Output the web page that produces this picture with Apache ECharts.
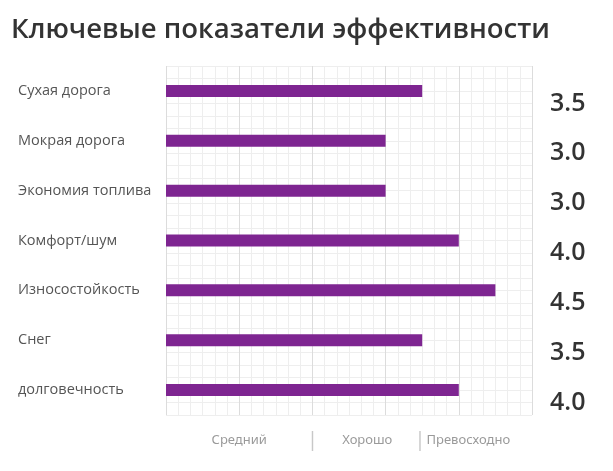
<!DOCTYPE html>
<html><head><meta charset="utf-8">
<script src="https://cdn.jsdelivr.net/npm/echarts@6/dist/echarts.min.js"></script>
<style>html,body{margin:0;padding:0;background:#fff}#c{width:613px;height:471px}</style>
</head><body><div id="c"></div>
<script>
const categories = ['Сухая дорога','Мокрая дорога','Экономия топлива','Комфорт/шум','Износостойкость','Снег','долговечность'];
const values = [3.5, 3.0, 3.0, 4.0, 4.5, 3.5, 4.0];
const scaleLabels = ['Средний','Хорошо','Превосходно'];
const scalePositions = [1, 2.75, 4.13];
const separatorPositions = [2, 3.47];

const labelMap = {};
scalePositions.forEach((p,i)=>{labelMap[p]=scaleLabels[i];});
separatorPositions.forEach(p=>{labelMap[p]='|';});
const customVals = scalePositions.concat(separatorPositions).sort((a,b)=>a-b);

const chart = echarts.init(document.getElementById('c'));
chart.setOption({
  animation:false,
  backgroundColor:'#fff',
  title:{text:'Ключевые показатели эффективности',left:6,top:11,
    textStyle:{fontFamily:'Open Sans',fontSize:27.5,fontWeight:600,color:'#333'}},
  grid:{left:166,right:81,top:66,bottom:56},
  xAxis:[{
    type:'value',min:0,max:5,interval:1,
    axisLine:{show:false},axisTick:{show:false},axisLabel:{show:false},
    splitLine:{show:true,lineStyle:{color:'#dcdcdc',width:1}},
    minorTick:{show:false,splitNumber:6},
    minorSplitLine:{show:true,lineStyle:{color:'#eeeeee',width:1}}
  },{
    type:'value',min:0,max:5,position:'bottom',
    axisLine:{show:false},axisTick:{show:false},splitLine:{show:false},
    axisLabel:{customValues:customVals,margin:16,verticalAlign:'top',
      formatter:v=>{const t=labelMap[v];return t==='|'?'{s|'+t+'}':'{t|'+t+'}';},
      rich:{t:{fontFamily:'Noto Sans',fontSize:13,color:'#9a9a9a',padding:[3,0,0,0]},
            s:{fontFamily:'Noto Sans',fontSize:19,color:'#c8c8c8'}}}
  }],
  yAxis:[{
    type:'category',data:categories,inverse:true,
    axisLine:{show:false},axisTick:{show:false},splitLine:{show:false},
    axisLabel:{align:'left',margin:148,fontFamily:'Open Sans',fontSize:14.5,color:'#555',padding:[3,0,0,0]}
  },{
    type:'category',data:values.map(v=>v.toFixed(1)),inverse:true,position:'right',
    axisLine:{show:false},axisTick:{show:false},splitLine:{show:false},
    axisLabel:{align:'left',margin:18,verticalAlign:'top',fontFamily:'Open Sans',fontSize:25,fontWeight:600,color:'#333'}
  },{
    type:'value',min:0,max:28,interval:4,show:true,
    axisLine:{show:false},axisTick:{show:false},axisLabel:{show:false},
    splitLine:{show:true,lineStyle:{color:'#eeeeee'}},
    minorTick:{show:false,splitNumber:4},
    minorSplitLine:{show:true,lineStyle:{color:'#eeeeee'}}
  }],
  series:[{
    type:'bar',data:values,xAxisIndex:0,yAxisIndex:0,barWidth:12,
    itemStyle:{color:'#7e2591'}
  }]
});
</script></body></html>
